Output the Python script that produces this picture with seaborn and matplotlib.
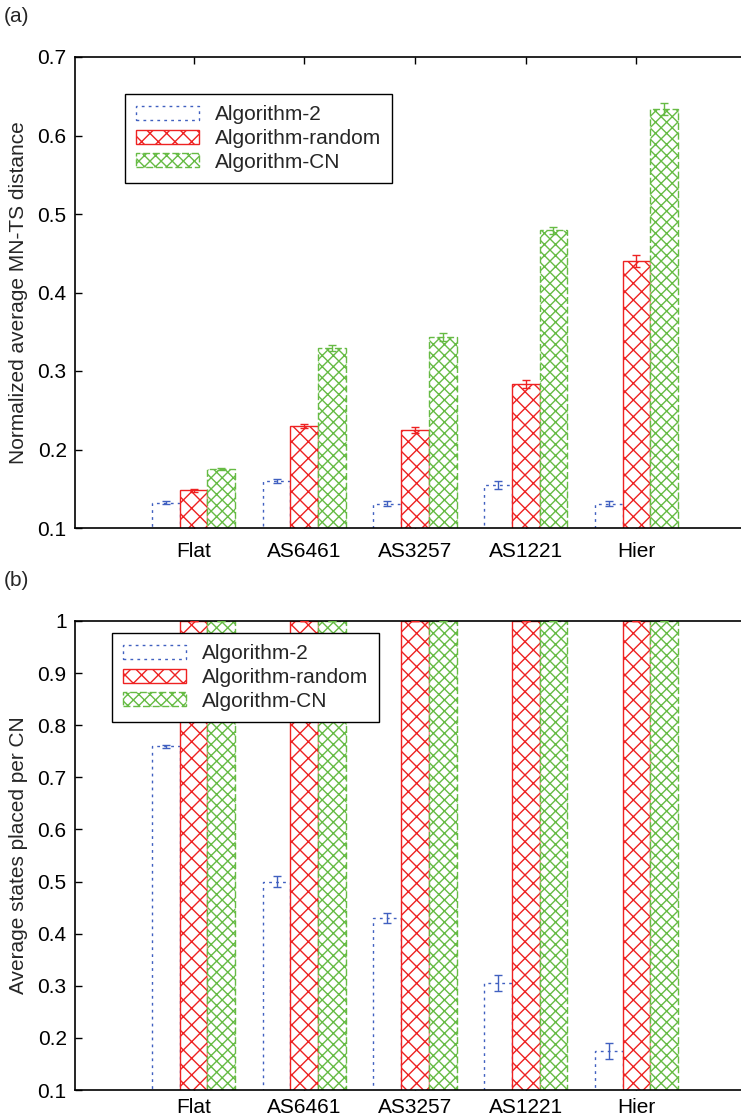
import matplotlib
matplotlib.use("Agg")
import matplotlib.pyplot as plt
import seaborn as sns
import pandas as pd
import numpy as np
from matplotlib.patches import Patch

categories = ["Flat", "AS6461", "AS3257", "AS1221", "Hier"]
series = ["Algorithm-2", "Algorithm-random", "Algorithm-CN"]

# Panel (a): normalized average MN-TS distance
a_alg2 = [0.132, 0.160, 0.131, 0.155, 0.131]
a_rand = [0.148, 0.230, 0.225, 0.283, 0.440]
a_cn = [0.175, 0.329, 0.343, 0.479, 0.634]
a_alg2_err = [0.002, 0.003, 0.003, 0.005, 0.003]
a_rand_err = [0.002, 0.002, 0.004, 0.005, 0.008]
a_cn_err = [0.001, 0.004, 0.005, 0.004, 0.008]

# Panel (b): average states placed per CN
b_alg2 = [0.760, 0.500, 0.430, 0.305, 0.175]
b_rand = [1.0, 1.0, 1.0, 1.0, 1.0]
b_cn = [1.0, 1.0, 1.0, 1.0, 1.0]
b_alg2_err = [0.003, 0.010, 0.010, 0.015, 0.015]
b_rand_err = [0.0, 0.0, 0.0, 0.0, 0.0]
b_cn_err = [0.0, 0.0, 0.0, 0.0, 0.0]

sns.set_theme(style="white")
plt.rcParams["font.family"] = ["Liberation Sans", "DejaVu Sans"]
plt.rcParams["hatch.linewidth"] = 1.0

FS = 15
colors = {"Algorithm-2": "#4060c0", "Algorithm-random": "#ee2222", "Algorithm-CN": "#66bb44"}
hatches = {"Algorithm-2": "", "Algorithm-random": "xx", "Algorithm-CN": "xxx"}
styles = {"Algorithm-2": (0, (2, 3)), "Algorithm-random": "solid", "Algorithm-CN": (0, (5, 2))}

W, H = 741, 1119
fig = plt.figure(figsize=(W / 100, H / 100), dpi=100)


def make_df(v2, vr, vc):
    rows = []
    for s, vals in zip(series, [v2, vr, vc]):
        for c, v in zip(categories, vals):
            rows.append({"cat": c, "series": s, "value": v})
    return pd.DataFrame(rows)


def panel(rect, v2, vr, vc, e2, er, ec, ylim, yticks, ylabel, legend_bbox, label, label_y, xpad):
    ax = fig.add_axes(rect)
    df = make_df(v2, vr, vc)
    sns.barplot(data=df, x="cat", y="value", hue="series", hue_order=series,
                order=categories, width=0.75, errorbar=None, ax=ax,
                palette=colors, legend=False, zorder=2)
    errs = {"Algorithm-2": e2, "Algorithm-random": er, "Algorithm-CN": ec}
    vals = {"Algorithm-2": v2, "Algorithm-random": vr, "Algorithm-CN": vc}
    for s, cont in zip(series, ax.containers):
        xs = []
        for p in cont.patches:
            p.set_facecolor("white")
            p.set_edgecolor(colors[s])
            p.set_hatch(hatches[s])
            p.set_linestyle(styles[s])
            p.set_linewidth(1.0)
            xs.append(p.get_x() + p.get_width() / 2)
        e = np.array(errs[s])
        ax.errorbar(xs, vals[s], yerr=e, fmt="none", ecolor=colors[s],
                    elinewidth=1.0, capsize=3, capthick=1.0, zorder=3,
                    linestyle=styles[s] if s == "Algorithm-2" else "solid")
    ax.set_xlim(-1.07, 5.07)
    ax.set_ylim(*ylim)
    ax.set_yticks(yticks)
    ax.set_yticklabels([("%g" % t) for t in yticks])
    ax.set_xlabel("")
    ax.set_ylabel(ylabel, fontsize=FS, labelpad=7)
    ax.tick_params(axis="both", labelsize=FS, colors="black", length=5,
                   direction="in", width=1.0)
    ax.tick_params(axis="x", top=True, bottom=True, pad=xpad)
    ax.tick_params(axis="y", left=True, right=False, pad=6)
    for sp in ["left", "top", "bottom"]:
        ax.spines[sp].set_visible(True)
        ax.spines[sp].set_color("black")
        ax.spines[sp].set_linewidth(1.2)
    ax.spines["right"].set_visible(False)
    handles = [Patch(facecolor="white", edgecolor=colors[s], hatch=hatches[s],
                     linestyle=styles[s], linewidth=1.0, label=s) for s in series]
    leg = ax.legend(handles=handles, loc="upper left", bbox_to_anchor=legend_bbox,
                    bbox_transform=fig.transFigure, fontsize=FS, frameon=True,
                    fancybox=False, edgecolor="black", framealpha=1,
                    handlelength=3.0, handleheight=0.65, handletextpad=0.75,
                    labelspacing=0.22, borderpad=0.55, borderaxespad=0)
    leg.get_frame().set_linewidth(1.0)
    leg.set_zorder(5)
    fig.text(0.005, label_y, label, fontsize=FS, ha="left", va="center")
    return ax


panel([75 / W, 1 - 528 / H, 680 / W, (528 - 57) / H], a_alg2, a_rand, a_cn,
      a_alg2_err, a_rand_err, a_cn_err, (0.1, 0.7),
      [0.1, 0.2, 0.3, 0.4, 0.5, 0.6, 0.7], "Normalized average MN-TS distance",
      (125 / W, 1 - 94 / H), "(a)", 1 - 16 / H, 10)

panel([75 / W, 1 - 1090 / H, 680 / W, (1090 - 621) / H], b_alg2, b_rand, b_cn,
      b_alg2_err, b_rand_err, b_cn_err, (0.1, 1.0),
      [0.1, 0.2, 0.3, 0.4, 0.5, 0.6, 0.7, 0.8, 0.9, 1.0], "Average states placed per CN",
      (112 / W, 1 - 633 / H), "(b)", 1 - 581 / H, 6)

fig.savefig("out.png", dpi=100)
